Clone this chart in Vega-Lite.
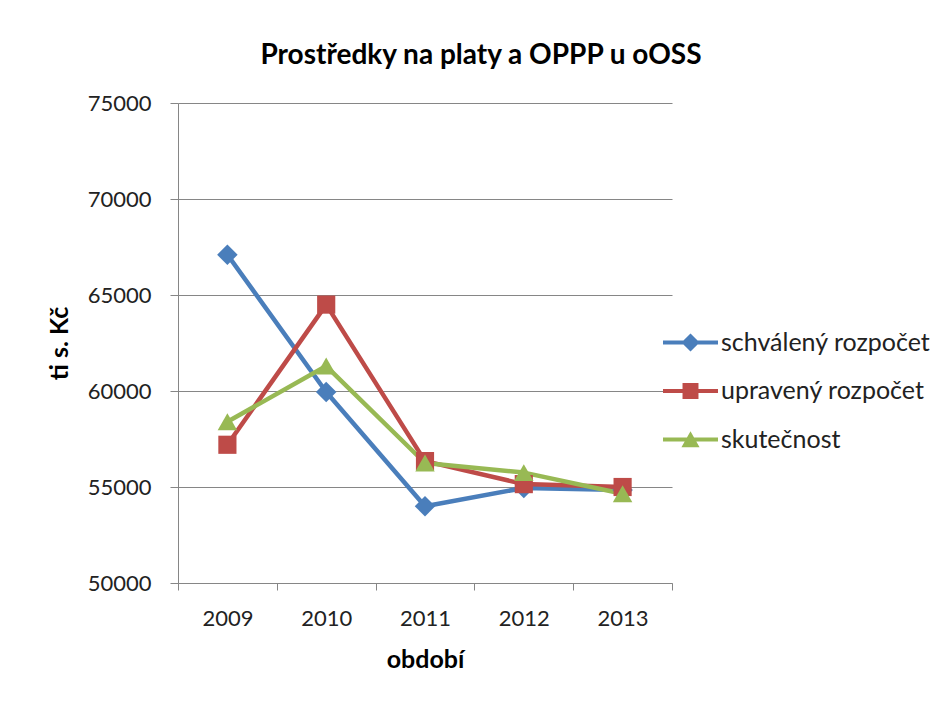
{
  "$schema": "https://vega.github.io/schema/vega-lite/v6.json",
  "autosize": "none",
  "width": 494,
  "height": 480,
  "padding": {"left": 178, "top": 103, "right": 275, "bottom": 119},
  "background": "white",
  "config": {
    "font": "Lato",
    "view": {"stroke": null}
  },
  "title": {
    "text": "Prostředky na platy a OPPP u oOSS",
    "font": "Lato",
    "fontSize": 28,
    "fontWeight": "bold",
    "color": "#000000",
    "anchor": "middle",
    "dx": 56,
    "offset": 22
  },
  "data": {
    "values": [
      {"year": 2009, "series": "schválený rozpočet", "value": 67100},
      {"year": 2010, "series": "schválený rozpočet", "value": 59950},
      {"year": 2011, "series": "schválený rozpočet", "value": 54000},
      {"year": 2012, "series": "schválený rozpočet", "value": 54950},
      {"year": 2013, "series": "schválený rozpočet", "value": 54850},
      {"year": 2009, "series": "upravený rozpočet", "value": 57200},
      {"year": 2010, "series": "upravený rozpočet", "value": 64500},
      {"year": 2011, "series": "upravený rozpočet", "value": 56350},
      {"year": 2012, "series": "upravený rozpočet", "value": 55150},
      {"year": 2013, "series": "upravený rozpočet", "value": 55000},
      {"year": 2009, "series": "skutečnost", "value": 58400},
      {"year": 2010, "series": "skutečnost", "value": 61300},
      {"year": 2011, "series": "skutečnost", "value": 56250},
      {"year": 2012, "series": "skutečnost", "value": 55750},
      {"year": 2013, "series": "skutečnost", "value": 54650}
    ]
  },
  "encoding": {
    "x": {
      "field": "year",
      "type": "quantitative",
      "scale": {"domain": [2008.5, 2013.5], "nice": false, "zero": false},
      "axis": {
        "title": "období",
        "titleFont": "Lato",
        "titleFontSize": 25,
        "titleFontWeight": "bold",
        "titleColor": "#000000",
        "titleBaseline": "middle",
        "titleY": 76,
        "values": [2008.5, 2009.5, 2010.5, 2011.5, 2012.5, 2013.5],
        "labelExpr": "datum.value < 2013 ? '' + (datum.value + 0.5) : ''",
        "labelOffset": 49.4,
        "labelOverlap": false,
        "labelFlush": false,
        "labelBound": false,
        "labelFont": "Lato",
        "labelFontSize": 22,
        "labelColor": "#222222",
        "labelBaseline": "alphabetic",
        "labelPadding": 35,
        "tickSize": 7,
        "tickColor": "#868686",
        "domainColor": "#868686",
        "grid": false
      }
    },
    "y": {
      "field": "value",
      "type": "quantitative",
      "scale": {"domain": [50000, 75000], "nice": false, "zero": false},
      "axis": {
        "title": "ti s. Kč",
        "titleFont": "Lato",
        "titleFontSize": 25,
        "titleFontWeight": "bold",
        "titleColor": "#000000",
        "titleAngle": -90,
        "titleAlign": "center",
        "titleBaseline": "middle",
        "titleX": -119,
        "titleY": 240,
        "values": [50000, 55000, 60000, 65000, 70000, 75000],
        "format": "d",
        "labelFont": "Lato",
        "labelFontSize": 22,
        "labelColor": "#222222",
        "labelPadding": 19,
        "tickSize": 8,
        "tickColor": "#868686",
        "domainColor": "#868686",
        "grid": true,
        "gridColor": "#868686",
        "gridWidth": 1
      }
    },
    "color": {
      "field": "series",
      "type": "nominal",
      "sort": ["schválený rozpočet", "upravený rozpočet", "skutečnost"],
      "scale": {
        "domain": ["schválený rozpočet", "upravený rozpočet", "skutečnost"],
        "range": ["#4A7EBB", "#BE4B48", "#98B954"]
      },
      "legend": {
        "title": null,
        "orient": "none",
        "legendX": 485,
        "legendY": 212,
        "symbolSize": 3025,
        "symbolType": "square",
        "labelFont": "Lato",
        "labelFontSize": 25,
        "labelColor": "#222222",
        "labelOffset": 3,
        "labelLimit": 400,
        "rowPadding": 7.5,
        "encode": {
          "symbols": {
            "update": {
              "shape": {"signal": "datum.value === 'schválený rozpočet' ? 'M-1,-0.075H1V0.075H-1Z M0,-0.33L0.33,0L0,0.33L-0.33,0Z' : datum.value === 'upravený rozpočet' ? 'M-1,-0.075H1V0.075H-1Z M-0.29,-0.29H0.29V0.29H-0.29Z' : 'M-1,-0.075H1V0.075H-1Z M0,-0.3L0.33,0.28H-0.33Z'"},
              "fill": {"scale": "color", "field": "value"},
              "fillOpacity": {"value": 1},
              "strokeWidth": {"value": 0},
              "size": {"value": 3025}
            }
          }
        }
      }
    }
  },
  "layer": [
    {
      "mark": {"type": "line", "strokeWidth": 4.5, "strokeJoin": "round"}
    },
    {
      "transform": [{"filter": "datum.series === 'schválený rozpočet'"}],
      "mark": {"type": "point", "filled": true, "opacity": 1, "shape": "diamond", "size": 420}
    },
    {
      "transform": [{"filter": "datum.series === 'upravený rozpočet'"}],
      "mark": {"type": "point", "filled": true, "opacity": 1, "shape": "square", "size": 330}
    },
    {
      "transform": [{"filter": "datum.series === 'skutečnost'"}],
      "mark": {"type": "point", "filled": true, "opacity": 1, "shape": "triangle-up", "size": 380}
    }
  ]
}
